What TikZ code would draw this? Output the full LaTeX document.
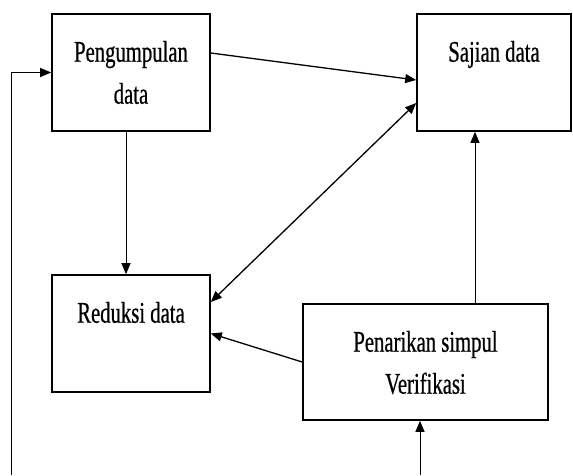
\documentclass[tikz,border=0pt]{standalone}
\usepackage{fontspec}
\setmainfont{Liberation Serif}[FakeStretch=0.69, FakeBold=0.6]
\usetikzlibrary{arrows.meta}

\tikzset{
  kotak/.style={draw, rectangle, line width=1.6pt, inner sep=0pt},
  teks/.style={align=center, inner sep=0pt, anchor=north, yshift=-27.5pt, font=\fontsize{30}{42}\selectfont},
  panah/.style={line width=1pt, -{Triangle[length=11pt, width=9pt]}},
  duapanah/.style={line width=1.3pt, {Triangle[length=11pt, width=9pt]}-{Triangle[length=11pt, width=9pt]}}
}

\begin{document}
\begin{tikzpicture}[x=1pt, y=-1pt]
        \useasboundingbox (0,0) rectangle (573,475);

        % Boxes
        \node[kotak, minimum width=158pt, minimum height=117pt, label={[teks]north:Pengumpulan\\data}] (kumpul) at (131,72.5) {};
        \node[kotak, minimum width=154pt, minimum height=117pt, label={[teks]north:Sajian data}] (sajian) at (494,72.5) {};
        \node[kotak, minimum width=158pt, minimum height=117pt, label={[teks]north:Reduksi data}] (reduksi) at (131,333.5) {};
        \node[kotak, minimum width=245pt, minimum height=116pt, label={[teks]north:Penarikan simpul\\Verifikasi}] (tarik) at (425.5,362) {};

        % Loose ends at the bottom edge
        \coordinate (kiri) at (11,475);
        \coordinate (bawah) at (420,475);

        % Connectors
        \draw[panah, line width=1.3pt] ([yshift=19.5pt]kumpul.east) -- ([yshift=-7.5pt]sajian.west);
        \draw[duapanah] ([yshift=31.5pt]reduksi.east) -- ([yshift=-30.5pt]sajian.west);
        \draw[panah] ([xshift=-5pt]kumpul.south) -- ([xshift=-5pt]reduksi.north);
        \draw[panah, line width=1.3pt] (tarik.west) -- (reduksi.east);
        \draw[panah] ([xshift=49.5pt]tarik.north) -- ([xshift=49.5pt]tarik.north |- sajian.south);
        \draw[panah] (bawah) -- (bawah |- tarik.south);
        \draw[panah] (kiri) |- (kumpul.west);
\end{tikzpicture}
\end{document}
